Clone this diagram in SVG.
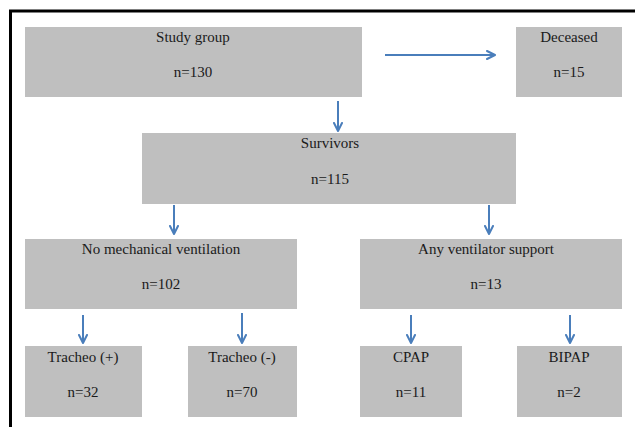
<svg xmlns="http://www.w3.org/2000/svg" width="635" height="427" viewBox="0 0 635 427">
<style>
  .box { fill: #bfbfbf; }
  .t { font-family: "Liberation Serif", "Times New Roman", serif; font-size: 15px; fill: #1a1a1a; text-anchor: middle; }
  .c { stroke: #4a7ebb; stroke-width: 2; fill: none; marker-end: url(#ah); }
  .frame { stroke: #000; fill: none; }
</style>
<defs>
  <marker id="ah" viewBox="0 0 10 10" refX="9" refY="5" markerWidth="5" markerHeight="5" orient="auto" markerUnits="strokeWidth">
    <path d="M1,1 L9,5 L1,9" fill="none" stroke="#4a7ebb" stroke-width="2" stroke-linecap="round" stroke-linejoin="round"/>
  </marker>
</defs>
<rect width="635" height="427" fill="#fff"/>
<g id="frame">
  <line class="frame" x1="9" y1="11" x2="635" y2="11" stroke-width="3"/>
  <line class="frame" x1="10.5" y1="10" x2="10.5" y2="427" stroke-width="3"/>
</g>
<g id="study-group">
  <rect class="box" x="25" y="27" width="337" height="70"/>
  <text class="t" x="193" y="42">Study group</text>
  <text class="t" x="193" y="77">n=130</text>
</g>
<g id="deceased">
  <rect class="box" x="516" y="27" width="106" height="70"/>
  <text class="t" x="569" y="42">Deceased</text>
  <text class="t" x="569" y="77">n=15</text>
</g>
<g id="survivors">
  <rect class="box" x="142" y="133" width="374" height="71"/>
  <text class="t" x="330" y="148">Survivors</text>
  <text class="t" x="330" y="184">n=115</text>
</g>
<g id="no-mech">
  <rect class="box" x="25" y="239" width="272" height="70"/>
  <text class="t" x="161" y="254">No mechanical ventilation</text>
  <text class="t" x="161" y="289">n=102</text>
</g>
<g id="any-vent">
  <rect class="box" x="360" y="239" width="262" height="70"/>
  <text class="t" x="486" y="254">Any ventilator support</text>
  <text class="t" x="486" y="289">n=13</text>
</g>
<g id="tracheo-plus">
  <rect class="box" x="25" y="346" width="117" height="71"/>
  <text class="t" x="83" y="362">Tracheo (+)</text>
  <text class="t" x="83" y="397">n=32</text>
</g>
<g id="tracheo-minus">
  <rect class="box" x="188" y="346" width="109" height="71"/>
  <text class="t" x="242" y="362">Tracheo (-)</text>
  <text class="t" x="242" y="397">n=70</text>
</g>
<g id="cpap">
  <rect class="box" x="360" y="346" width="102" height="71"/>
  <text class="t" x="411" y="362">CPAP</text>
  <text class="t" x="411" y="397">n=11</text>
</g>
<g id="bipap">
  <rect class="box" x="517" y="346" width="105" height="71"/>
  <text class="t" x="569" y="362">BIPAP</text>
  <text class="t" x="569" y="397">n=2</text>
</g>
<g id="connectors">
  <line class="c" x1="385" y1="55" x2="495" y2="55"/>
  <line class="c" x1="338" y1="101" x2="338" y2="131"/>
  <line class="c" x1="174" y1="205" x2="174" y2="234"/>
  <line class="c" x1="489" y1="205" x2="489" y2="234"/>
  <line class="c" x1="83" y1="315" x2="83" y2="343"/>
  <line class="c" x1="242" y1="313" x2="242" y2="343"/>
  <line class="c" x1="411" y1="315" x2="411" y2="343"/>
  <line class="c" x1="570" y1="315" x2="570" y2="343"/>
</g>
</svg>
